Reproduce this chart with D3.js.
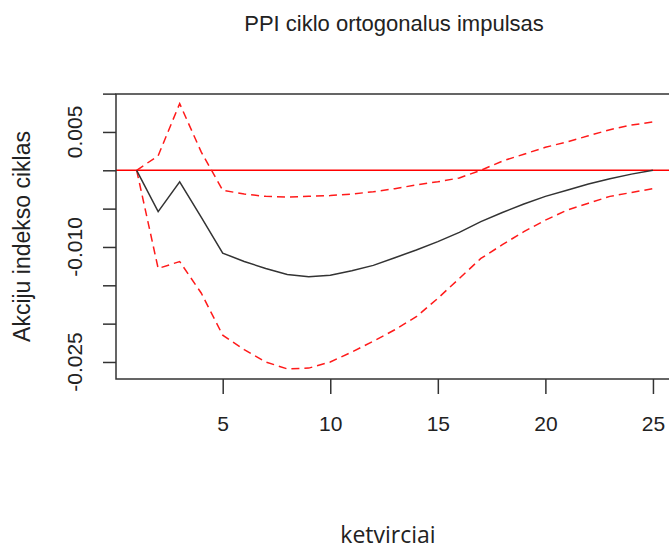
<!DOCTYPE html>
<html>
<head>
<meta charset="utf-8">
<script src="https://cdn.jsdelivr.net/npm/d3@7"></script>
<style>
  body { margin: 0; background: #fff; }
  svg { display: block; }
  text { font-family: "Liberation Sans", Arial, sans-serif; fill: #222; }
</style>
</head>
<body>
<svg id="chart" width="669" height="544"></svg>
<script>
'use strict';

// periods (ketvirciai)
var periods = d3.range(1, 26);

// impulse response
var irf = [0, -0.0054, -0.0015, -0.0061, -0.0108, -0.0119, -0.0128, -0.0136, -0.0139, -0.0137,
  -0.0131, -0.0124, -0.0114, -0.0104, -0.0093, -0.0081, -0.0067, -0.0055, -0.0044, -0.0034,
  -0.0026, -0.0018, -0.0011, -0.0005, 0];

// upper confidence band
var upper = [0, 0.0019, 0.0087, 0.0024, -0.0026, -0.0031, -0.0034, -0.0035, -0.0034, -0.0033,
  -0.0031, -0.0028, -0.0024, -0.0019, -0.0015, -0.0010, 0.0000, 0.0012, 0.0021, 0.0030,
  0.0037, 0.0045, 0.0053, 0.0059, 0.0063];

// lower confidence band
var lower = [0, -0.0128, -0.0119, -0.0160, -0.0215, -0.0234, -0.0250, -0.0259, -0.0258, -0.0250,
  -0.0237, -0.0223, -0.0208, -0.0191, -0.0167, -0.0141, -0.0115, -0.0097, -0.0080, -0.0065,
  -0.0052, -0.0043, -0.0034, -0.0029, -0.0024];

var xTicks = [5, 10, 15, 20, 25];
var yTicks = [0.01, 0.005, 0, -0.005, -0.01, -0.015, -0.02, -0.025];
var yTickLabels = [0.005, -0.01, -0.025];

var svg = d3.select('#chart');

//Plot region
var plot = { left: 116, right: 673.6, top: 94, bottom: 379 };

//Scales
var xScale = d3.scaleLinear().domain([0.04, 25.96]).range([plot.left, plot.right]);
var yScale = d3.scaleLinear().domain([-0.02722, 0.00995]).range([plot.bottom, plot.top]);

var axisColor = '#333';

//Title
svg.append('text').attr('x', 394).attr('y', 31).style('text-anchor', 'middle')
  .style('font-size', '22px').text('PPI ciklo ortogonalus impulsas');

//Zero line
svg.append('line').attr('x1', plot.left).attr('x2', plot.right)
  .attr('y1', yScale(0)).attr('y2', yScale(0))
  .attr('stroke', '#ff0000').attr('stroke-width', 1.5);

//Lines
var line = d3.line().x(function (d, i) {
  return xScale(periods[i]);
}).y(function (d) {
  return yScale(d);
});

[upper, lower].forEach(function (band) {
  svg.append('path').datum(band).attr('d', line)
    .attr('fill', 'none').attr('stroke', '#ff1a1a').attr('stroke-width', 1.5)
    .attr('stroke-dasharray', '8,5');
});

svg.append('path').datum(irf).attr('d', line)
  .attr('fill', 'none').attr('stroke', '#333').attr('stroke-width', 1.5);

//Box
svg.append('rect').attr('x', plot.left).attr('y', plot.top)
  .attr('width', plot.right - plot.left).attr('height', plot.bottom - plot.top)
  .attr('fill', 'none').attr('stroke', axisColor).attr('stroke-width', 1.5);

//X axis
var gx = svg.append('g').attr('transform', 'translate(0,' + plot.bottom + ')')
  .call(d3.axisBottom(xScale).tickValues(xTicks).tickSize(15).tickPadding(37));
gx.select('.domain').remove();
gx.selectAll('line').attr('stroke', axisColor).attr('stroke-width', 1.5);
gx.selectAll('text').attr('dy', 0).style('font-size', '21px')
  .style('font-family', '"Liberation Sans", Arial, sans-serif').attr('fill', '#222');

//Y axis
var gy = svg.append('g').attr('transform', 'translate(' + plot.left + ',0)')
  .call(d3.axisLeft(yScale).tickValues(yTicks).tickSize(13).tickFormat(''));
gy.select('.domain').remove();
gy.selectAll('line').attr('stroke', axisColor).attr('stroke-width', 1.5);

//Y tick labels (rotated, like R)
svg.selectAll('text.ylab').data(yTickLabels).enter().append('text').classed('ylab', true)
  .attr('transform', function (d) {
    return 'translate(82,' + yScale(d) + ') rotate(-90)';
  })
  .style('text-anchor', 'middle').style('font-size', '21px')
  .text(function (d) {
    return d.toFixed(3);
  });

//Y label
svg.append('text').attr('transform', 'translate(30,' + (plot.top + plot.bottom) / 2 + ') rotate(-90)')
  .style('text-anchor', 'middle').style('font-size', '23px').text('Akciju indekso ciklas');

//X label (cut by the bottom edge, as in the original)
svg.append('text').attr('x', 388).attr('y', 543).style('text-anchor', 'middle')
  .style('font-family', '"Open Sans", sans-serif').style('font-size', '23px').text('ketvirciai');
</script>
</body>
</html>
